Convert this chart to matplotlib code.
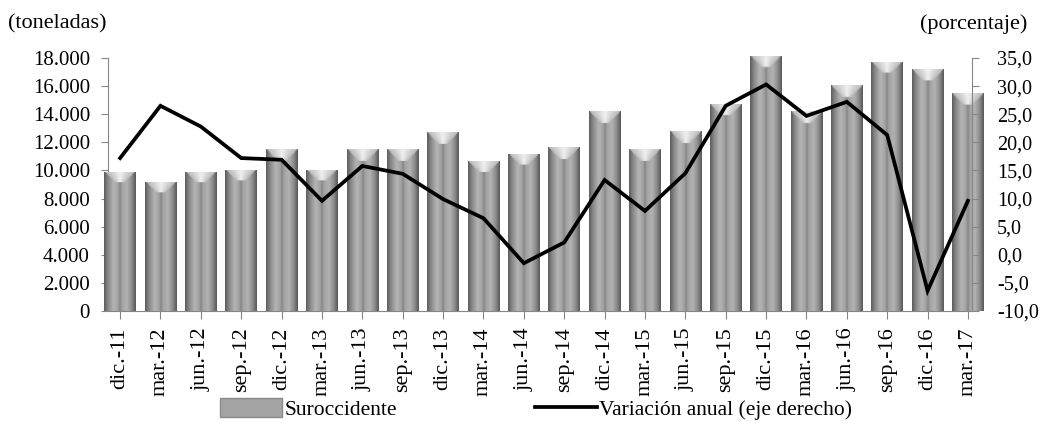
import numpy as np
import matplotlib
matplotlib.use("Agg")
import matplotlib.pyplot as plt
from matplotlib.patches import Patch
from matplotlib.lines import Line2D
from matplotlib.colors import LinearSegmentedColormap

plt.rcParams['font.family'] = ['Liberation Serif', 'DejaVu Serif']

categories = ["dic.-11", "mar.-12", "jun.-12", "sep.-12", "dic.-12", "mar.-13",
              "jun.-13", "sep.-13", "dic.-13", "mar.-14", "jun.-14", "sep.-14",
              "dic.-14", "mar.-15", "jun.-15", "sep.-15", "dic.-15", "mar.-16",
              "jun.-16", "sep.-16", "dic.-16", "mar.-17"]
toneladas = [9900, 9200, 9900, 10050, 11500, 10050, 11500, 11500, 12700, 10650,
             11200, 11650, 14200, 11500, 12800, 14700, 18150, 14200, 16050, 17750,
             17200, 15500]
variacion = [17.2, 26.5, 22.8, 17.2, 16.9, 9.6, 15.8, 14.4, 9.9, 6.5,
             -1.5, 2.2, 13.3, 7.8, 14.5, 26.5, 30.3, 24.7, 27.2, 21.3,
             -6.4, 9.6]
left_ticks = [0, 2000, 4000, 6000, 8000, 10000, 12000, 14000, 16000, 18000]
right_ticks = [-10, -5, 0, 5, 10, 15, 20, 25, 30, 35]

def fmt_left(v):
    return f"{v:,.0f}".replace(",", ".")

def fmt_right(v):
    return f"{v:.1f}".replace(".", ",")

W, H = 1045, 421
fig = plt.figure(figsize=(W / 100, H / 100), dpi=100)
ax = fig.add_axes([108 / W, 1 - 311 / H, (972 - 108) / W, (311 - 58) / H])
x = np.arange(len(categories))
bars = ax.bar(x, toneladas, width=0.78, color='#999999', edgecolor='none', zorder=2)
xlim = (-0.3, len(categories) - 0.9)

# cylinder-like gradient for each bar
stops = [(0.0, '#5e5e5e'), (0.12, '#888888'), (0.3, '#b5b5b5'), (0.45, '#a0a0a0'),
         (0.5, '#858585'), (0.56, '#a2a2a2'), (0.72, '#b2b2b2'), (0.88, '#8a8a8a'),
         (1.0, '#5a5a5a')]
cmap = LinearSegmentedColormap.from_list('cyl', stops)
ncols = 60
u = np.linspace(0, 1, ncols)
base_rgb = cmap(u)[:, :3]
px_per_unit = (311 - 58) / 18000.0
cap_h = 11 / px_per_unit
for rect in bars.patches:
    x0, w, h = rect.get_x(), rect.get_width(), rect.get_height()
    nrows = 150
    yy = np.linspace(0, h, nrows)
    img = np.tile(base_rgb[None, :, :], (nrows, 1, 1)).copy()
    for i, yv in enumerate(yy):
        if yv > h - cap_h:
            t = (yv - (h - cap_h)) / cap_h
            half = 0.15 + 0.33 * t
            inside = np.abs(u - 0.5) < half
            light = np.clip(1 - np.abs(u - 0.5) / max(half, 1e-6), 0, 1)
            col = 0.72 + 0.22 * light
            img[i, inside, :] = col[inside][:, None]
    im = ax.imshow(img, extent=[x0, x0 + w, 0, h], origin='lower', aspect='auto',
                   zorder=3, interpolation='bilinear')
    im.set_clip_path(rect)
ax.set_xlim(*xlim)
ax.set_ylim(0, 18000)

ax2 = ax.twinx()
ax2.plot(x, variacion, color='black', lw=2.7, zorder=5, solid_joinstyle='miter')
ax2.set_ylim(-10, 35)
ax2.set_xlim(*xlim)

spine_col = '#868686'
for a in (ax, ax2):
    for s in a.spines.values():
        s.set_color(spine_col)
    a.spines['top'].set_visible(False)
ax.spines['right'].set_visible(False)
ax2.spines['left'].set_visible(False)
ax2.spines['bottom'].set_visible(False)

ax.set_yticks(left_ticks)
ax.set_yticklabels([fmt_left(v) for v in left_ticks], fontsize=15)
ax2.set_yticks(right_ticks)
ax2.set_yticklabels([fmt_right(v) for v in right_ticks], fontsize=14.5)
ax.set_xticks(x)
ax.set_xticklabels(categories, rotation=90, fontsize=16)
ax.tick_params(axis='y', length=5, color=spine_col, pad=8)
ax2.tick_params(axis='y', length=5, color=spine_col, pad=13)
ax.tick_params(axis='x', length=6, color=spine_col, pad=6)

fig.text(8 / W, 1 - 24 / H, "(toneladas)", fontsize=16, va='center', ha='left')
fig.text(1027 / W, 1 - 24 / H, "(porcentaje)", fontsize=16, va='center', ha='right')

handles = [Patch(facecolor='#a4a4a4', edgecolor='#8a8a8a'),
           Line2D([0], [0], color='black', lw=2.7)]
fig.legend(handles, ["Suroccidente", "Variación anual (eje derecho)"],
           loc='center', bbox_to_anchor=(536 / W, 1 - 409 / H), ncol=2,
           frameon=False, fontsize=15.5, handlelength=2.9, handleheight=1.0,
           handletextpad=0.1, columnspacing=6.4, borderpad=0)

fig.savefig("out.png", dpi=100)
